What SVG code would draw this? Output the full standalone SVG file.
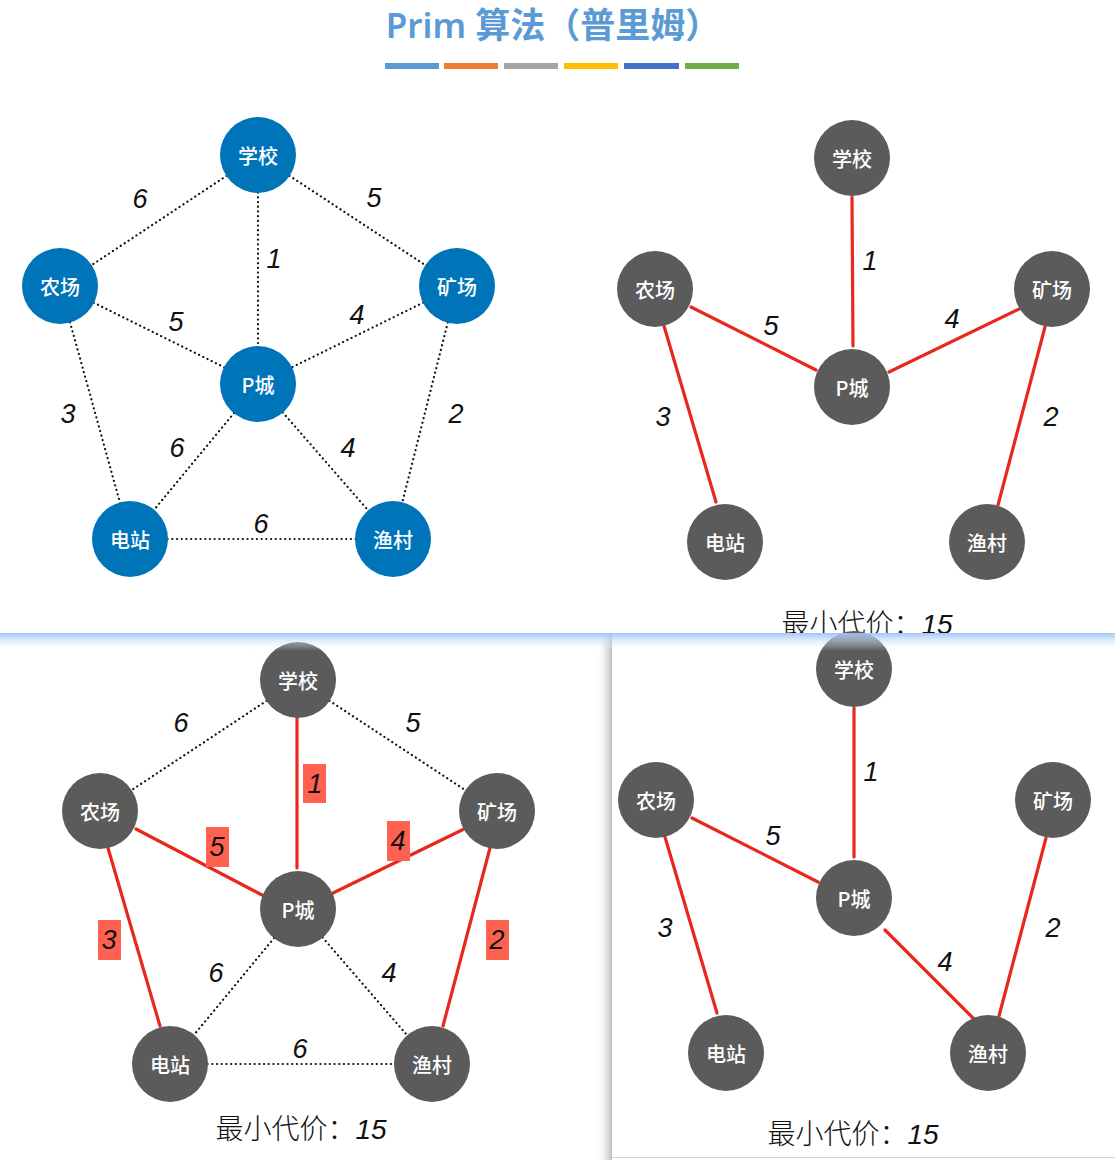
<svg xmlns="http://www.w3.org/2000/svg" width="1115" height="1160" viewBox="0 0 1115 1160">
<defs>
<linearGradient id="topband" x1="0" y1="0" x2="0" y2="1">
<stop offset="0" stop-color="#9cc2f5" stop-opacity="0.95"/>
<stop offset="1" stop-color="#ffffff" stop-opacity="0"/>
</linearGradient>
<linearGradient id="leftshadow" x1="0" y1="0" x2="1" y2="0">
<stop offset="0" stop-color="#ffffff" stop-opacity="0"/>
<stop offset="1" stop-color="#bdbdbd" stop-opacity="1"/>
</linearGradient>
<style>
.title{font-family:"Noto Sans","Noto Sans CJK SC",sans-serif;font-size:35px;font-weight:600;fill:#5b9bd5}
.blue{fill:#0074b8}
.gray{fill:#5b5b5b}
.nt{font-family:"Noto Sans CJK SC","Liberation Sans",sans-serif;font-size:20px;font-weight:500;fill:#ffffff;text-anchor:middle;dominant-baseline:central}
.dot{stroke:#111;stroke-width:2.2;stroke-dasharray:0.1 4.6;stroke-linecap:round;fill:none}
.red{stroke:#e8281c;stroke-width:3.2;fill:none;stroke-linecap:round}
.el{font-family:"Liberation Sans",sans-serif;font-style:italic;font-size:27px;fill:#111;text-anchor:middle;dominant-baseline:central}
.hl{fill:#ff6150}
.cost{font-family:"Noto Sans CJK SC","Liberation Sans",sans-serif;font-size:28px;font-weight:300;fill:#111;text-anchor:middle}
.num{font-family:"Liberation Sans",sans-serif;font-style:italic}
</style>
</defs>
<rect width="1115" height="1160" fill="#ffffff"/>

<!-- Title -->
<g id="title">
<text class="title" x="553" y="38" text-anchor="middle">Prim 算法（普里姆）</text>
<rect x="385" y="63" width="54" height="6" fill="#5b9bd5"/>
<rect x="444" y="63" width="54" height="6" fill="#ed7d31"/>
<rect x="504" y="63" width="54" height="6" fill="#a5a5a5"/>
<rect x="564" y="63" width="54" height="6" fill="#ffc000"/>
<rect x="624" y="63" width="55" height="6" fill="#4472c4"/>
<rect x="685" y="63" width="54" height="6" fill="#70ad47"/>
</g>

<!-- ===== Top-left panel ===== -->
<g id="tl-connectors">
<line class="dot" x1="258" y1="155" x2="60" y2="286"/>
<line class="dot" x1="258" y1="155" x2="457" y2="286"/>
<line class="dot" x1="258" y1="155" x2="258" y2="384"/>
<line class="dot" x1="60" y1="286" x2="258" y2="384"/>
<line class="dot" x1="457" y1="286" x2="258" y2="384"/>
<line class="dot" x1="60" y1="286" x2="130" y2="539"/>
<line class="dot" x1="457" y1="286" x2="393" y2="539"/>
<line class="dot" x1="258" y1="384" x2="130" y2="539"/>
<line class="dot" x1="258" y1="384" x2="393" y2="539"/>
<line class="dot" x1="130" y1="539" x2="393" y2="539"/>
<text class="el" x="140" y="199">6</text>
<text class="el" x="374" y="198">5</text>
<text class="el" x="274" y="259">1</text>
<text class="el" x="176" y="322">5</text>
<text class="el" x="357" y="315">4</text>
<text class="el" x="68" y="414">3</text>
<text class="el" x="456" y="414">2</text>
<text class="el" x="177" y="448">6</text>
<text class="el" x="348" y="448">4</text>
<text class="el" x="261" y="524">6</text>
</g>
<g id="tl-school"><circle class="blue" cx="258" cy="155" r="38"/><text class="nt" x="258" y="155">学校</text></g>
<g id="tl-farm"><circle class="blue" cx="60" cy="286" r="38"/><text class="nt" x="60" y="286">农场</text></g>
<g id="tl-mine"><circle class="blue" cx="457" cy="286" r="38"/><text class="nt" x="457" y="286">矿场</text></g>
<g id="tl-pcity"><circle class="blue" cx="258" cy="384" r="38"/><text class="nt" x="258" y="384">P城</text></g>
<g id="tl-power"><circle class="blue" cx="130" cy="539" r="38"/><text class="nt" x="130" y="539">电站</text></g>
<g id="tl-village"><circle class="blue" cx="393" cy="539" r="38"/><text class="nt" x="393" y="539">渔村</text></g>

<!-- ===== Top-right panel ===== -->
<g id="tr-connectors">
<line class="red" x1="852" y1="197" x2="853" y2="346"/>
<line class="red" x1="691" y1="307" x2="816" y2="370"/>
<line class="red" x1="1019" y1="309" x2="889" y2="372"/>
<line class="red" x1="664" y1="326" x2="716" y2="502"/>
<line class="red" x1="1045" y1="327" x2="998" y2="505"/>
<text class="el" x="870" y="261">1</text>
<text class="el" x="771" y="326">5</text>
<text class="el" x="952" y="319">4</text>
<text class="el" x="663" y="417">3</text>
<text class="el" x="1051" y="417">2</text>
</g>
<g id="tr-school"><circle class="gray" cx="852" cy="158" r="38"/><text class="nt" x="852" y="158">学校</text></g>
<g id="tr-farm"><circle class="gray" cx="655" cy="289" r="38"/><text class="nt" x="655" y="289">农场</text></g>
<g id="tr-mine"><circle class="gray" cx="1052" cy="289" r="38"/><text class="nt" x="1052" y="289">矿场</text></g>
<g id="tr-pcity"><circle class="gray" cx="852" cy="387" r="38"/><text class="nt" x="852" y="387">P城</text></g>
<g id="tr-power"><circle class="gray" cx="725" cy="542" r="38"/><text class="nt" x="725" y="542">电站</text></g>
<g id="tr-village"><circle class="gray" cx="987" cy="542" r="38"/><text class="nt" x="987" y="542">渔村</text></g>
<text class="cost" x="867" y="634">最小代价：<tspan class="num">15</tspan></text>

<!-- ===== Bottom panels background ===== -->
<rect x="0" y="633" width="1115" height="527" fill="#ffffff"/>
<rect x="596" y="633" width="16" height="527" fill="url(#leftshadow)"/>
<rect x="612" y="633" width="503" height="524" fill="#ffffff"/>
<line x1="612" y1="1157.5" x2="1115" y2="1157.5" stroke="#d0d0d0" stroke-width="1"/>

<!-- ===== Bottom-left panel ===== -->
<g id="bl-connectors">
<line class="dot" x1="298" y1="680" x2="100" y2="811"/>
<line class="dot" x1="298" y1="680" x2="497" y2="811"/>
<line class="dot" x1="298" y1="909" x2="170" y2="1064"/>
<line class="dot" x1="298" y1="909" x2="432" y2="1064"/>
<line class="dot" x1="170" y1="1064" x2="432" y2="1064"/>
<line class="red" x1="297" y1="718" x2="297" y2="868"/>
<line class="red" x1="136" y1="829" x2="262" y2="895"/>
<line class="red" x1="464" y1="829" x2="333" y2="893"/>
<line class="red" x1="108" y1="848" x2="160" y2="1026"/>
<line class="red" x1="490" y1="848" x2="443" y2="1026"/>
<rect class="hl" x="303" y="764" width="23" height="39"/>
<rect class="hl" x="206" y="827" width="23" height="40"/>
<rect class="hl" x="387" y="821" width="23" height="40"/>
<rect class="hl" x="98" y="920" width="23" height="40"/>
<rect class="hl" x="486" y="920" width="23" height="40"/>
<text class="el" x="181" y="723">6</text>
<text class="el" x="413" y="723">5</text>
<text class="el" x="315" y="784">1</text>
<text class="el" x="217" y="847">5</text>
<text class="el" x="398" y="841">4</text>
<text class="el" x="109" y="940">3</text>
<text class="el" x="497" y="940">2</text>
<text class="el" x="216" y="973">6</text>
<text class="el" x="389" y="973">4</text>
<text class="el" x="300" y="1049">6</text>
</g>
<g id="bl-school"><circle class="gray" cx="298" cy="680" r="38"/><text class="nt" x="298" y="680">学校</text></g>
<g id="bl-farm"><circle class="gray" cx="100" cy="811" r="38"/><text class="nt" x="100" y="811">农场</text></g>
<g id="bl-mine"><circle class="gray" cx="497" cy="811" r="38"/><text class="nt" x="497" y="811">矿场</text></g>
<g id="bl-pcity"><circle class="gray" cx="298" cy="909" r="38"/><text class="nt" x="298" y="909">P城</text></g>
<g id="bl-power"><circle class="gray" cx="170" cy="1064" r="38"/><text class="nt" x="170" y="1064">电站</text></g>
<g id="bl-village"><circle class="gray" cx="432" cy="1064" r="38"/><text class="nt" x="432" y="1064">渔村</text></g>
<text class="cost" x="301" y="1139">最小代价：<tspan class="num">15</tspan></text>

<!-- ===== Bottom-right panel ===== -->
<g id="br-connectors">
<line class="red" x1="854" y1="708" x2="854" y2="857"/>
<line class="red" x1="692" y1="818" x2="818" y2="882"/>
<line class="red" x1="885" y1="930" x2="975" y2="1020"/>
<line class="red" x1="665" y1="837" x2="717" y2="1013"/>
<line class="red" x1="1046" y1="838" x2="999" y2="1016"/>
<text class="el" x="871" y="772">1</text>
<text class="el" x="773" y="836">5</text>
<text class="el" x="665" y="928">3</text>
<text class="el" x="1053" y="928">2</text>
<text class="el" x="945" y="962">4</text>
</g>
<g id="br-school"><circle class="gray" cx="854" cy="669" r="38"/><text class="nt" x="854" y="669">学校</text></g>
<g id="br-farm"><circle class="gray" cx="656" cy="800" r="38"/><text class="nt" x="656" y="800">农场</text></g>
<g id="br-mine"><circle class="gray" cx="1053" cy="800" r="38"/><text class="nt" x="1053" y="800">矿场</text></g>
<g id="br-pcity"><circle class="gray" cx="854" cy="898" r="38"/><text class="nt" x="854" y="898">P城</text></g>
<g id="br-power"><circle class="gray" cx="726" cy="1053" r="38"/><text class="nt" x="726" y="1053">电站</text></g>
<g id="br-village"><circle class="gray" cx="988" cy="1053" r="38"/><text class="nt" x="988" y="1053">渔村</text></g>
<text class="cost" x="853" y="1144">最小代价：<tspan class="num">15</tspan></text>

<!-- top gradient band over bottom panels -->
<rect x="0" y="633" width="1115" height="18" fill="url(#topband)"/>
</svg>
